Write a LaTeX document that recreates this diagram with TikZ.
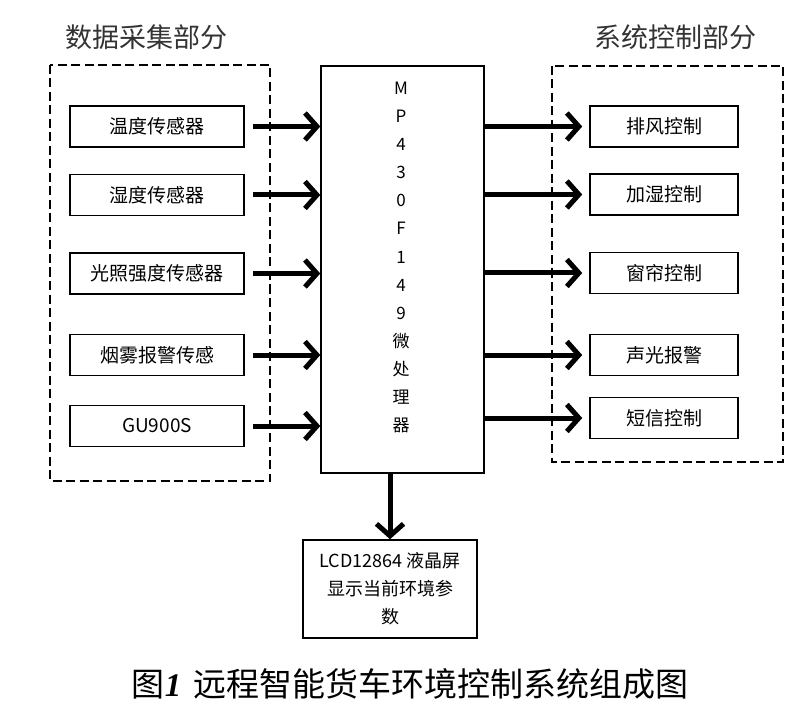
\documentclass[tikz,border=0pt]{standalone}
\usepackage{fontspec}
\setmainfont{Noto Sans CJK SC}
\newfontfamily\capnum{Liberation Serif}
\usetikzlibrary{arrows.meta}
\tikzset{
  groupbox/.style={draw,line width=2.8pt,dash pattern=on 9pt off 4.5pt},
  unitbox/.style={draw,line width=1.6pt,inner sep=0pt,
    font=\fontsize{19}{22}\selectfont},
  bigarrow/.style={line width=5pt,
    -{Straight Barb[length=12pt,width=27pt,line width=5pt]}},
}
\begin{document}
\begin{tikzpicture}[x=1pt,y=-1pt]
  \useasboundingbox (0,0) rectangle (800,711);
  % group frames
  \draw[groupbox] (50,65) rectangle (270,481);
  \draw[groupbox] (552,66) rectangle (783,462);
  \path (146,37) node[font=\fontsize{27}{30}\selectfont,text=black!80] (ltitle) {数据采集部分};
  \path (675,37) node[font=\fontsize{27}{30}\selectfont,text=black!80] (rtitle) {系统控制部分};
  % sensors
  \node[unitbox,minimum width=174pt,minimum height=41pt] (s1) at (157,126.5) {温度传感器};
  \node[unitbox,minimum width=174pt,minimum height=41pt] (s2) at (157,195) {湿度传感器};
  \node[unitbox,minimum width=174pt,minimum height=41pt] (s3) at (157,273.5) {光照强度传感器};
  \node[unitbox,minimum width=174pt,minimum height=41pt] (s4) at (157,355) {烟雾报警传感};
  \node[unitbox,minimum width=174pt,minimum height=41pt] (s5) at (157,426) {GU900S};
  % controls
  \node[unitbox,minimum width=148pt,minimum height=41pt] (c1) at (664,126.5) {排风控制};
  \node[unitbox,minimum width=148pt,minimum height=41pt] (c2) at (664,194.5) {加湿控制};
  \node[unitbox,minimum width=148pt,minimum height=41pt] (c3) at (664,273) {窗帘控制};
  \node[unitbox,minimum width=148pt,minimum height=41pt] (c4) at (664,355) {声光报警};
  \node[unitbox,minimum width=148pt,minimum height=41pt] (c5) at (664,418) {短信控制};
  % processor
  \node[draw,line width=1.4pt,minimum width=163pt,minimum height=407pt] (mcu) at (402.5,269.5) {};
  \node[align=center,font=\fontsize{17}{28.1}\selectfont] (mcutext) at (401,257.5)
    {M\\P\\4\\3\\0\\F\\1\\4\\9\\微\\处\\理\\器};
  % display
  \node[unitbox,align=center,minimum width=174pt,minimum height=98pt,
    font=\fontsize{18}{28}\selectfont] (lcd) at (390,589)
    {LCD12864 液晶屏\\显示当前环境参\\数};
  % arrows
  \foreach \n in {1,...,5} {
    \draw[bigarrow,shorten <=8pt] (s\n.east) -- (s\n.east -| mcu.west);
    \draw[bigarrow,shorten >=7pt] (mcu.east |- c\n.west) -- (c\n.west);
  }
  \draw[bigarrow] (mcu.south -| lcd.north) -- (lcd.north);
  % caption
  \node[font=\fontsize{33}{38}\selectfont] (cap) at (410,684)
    {图{\capnum\bfseries\itshape 1}\hspace{12pt}远程智能货车环境控制系统组成图};
\end{tikzpicture}
\end{document}
